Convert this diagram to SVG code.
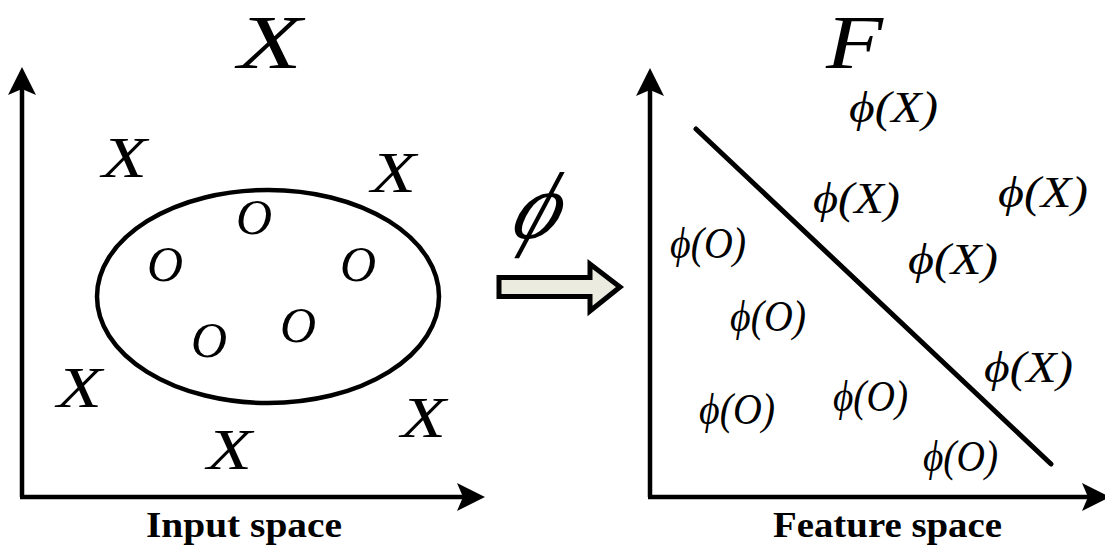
<svg xmlns="http://www.w3.org/2000/svg" width="1105" height="551" viewBox="0 0 1105 551">
<defs>
<marker id="ah" markerUnits="userSpaceOnUse" viewBox="0 0 28 28" markerWidth="28" markerHeight="28" refX="18" refY="14" orient="auto">
<path d="M0,0 L28,14 L0,28 L6,14 z" fill="#000"/>
</marker>
<style>
.ax{stroke:#000;stroke-width:4.5;fill:none}
.it{font-family:"Liberation Serif","Times New Roman",serif;font-style:italic;fill:#000}
.pt{font-size:56px}
.po{font-size:50px}
.lb{font-size:44px}
.ttl{font-size:76px}
.cap{font-family:"Liberation Serif","Times New Roman",serif;font-weight:bold;font-size:35px;fill:#000}
</style>
</defs>
<rect width="1105" height="551" fill="#fff"/>
<g id="connectors">
<path class="ax" d="M22,497 V77" marker-end="url(#ah)"/>
<path class="ax" d="M20,497 H475" marker-end="url(#ah)"/>
<path class="ax" d="M650,497 V78" marker-end="url(#ah)"/>
<path class="ax" d="M648,497 H1100" marker-end="url(#ah)"/>
<path d="M499,277.5 H590 V264 L620,287 L590,311 V296.5 H499 Z" fill="#ecebe0" stroke="#000" stroke-width="5"/>
</g>
<g id="input-space">
<text class="it ttl" x="238" y="68" textLength="64" lengthAdjust="spacingAndGlyphs">X</text>
<ellipse cx="268" cy="296.5" rx="171" ry="106.5" fill="none" stroke="#000" stroke-width="4.5"/>
<text class="it pt" x="102" y="177" textLength="45" lengthAdjust="spacingAndGlyphs">X</text>
<text class="it pt" x="371" y="192" textLength="45" lengthAdjust="spacingAndGlyphs">X</text>
<text class="it pt" x="57" y="407" textLength="45" lengthAdjust="spacingAndGlyphs">X</text>
<text class="it pt" x="207" y="469" textLength="45" lengthAdjust="spacingAndGlyphs">X</text>
<text class="it pt" x="401" y="437" textLength="45" lengthAdjust="spacingAndGlyphs">X</text>
<text class="it po" x="236" y="234">O</text>
<text class="it po" x="147" y="281">O</text>
<text class="it po" x="340" y="281">O</text>
<text class="it po" x="191" y="357">O</text>
<text class="it po" x="280" y="342">O</text>
<text class="cap" x="146" y="537" textLength="196" lengthAdjust="spacingAndGlyphs">Input space</text>
</g>
<g id="mapping">
<text class="it" transform="translate(531,238) skewX(-20)" x="0" y="0" font-size="95" text-anchor="middle" textLength="46" lengthAdjust="spacingAndGlyphs">ϕ</text>
</g>
<g id="feature-space">
<text class="it ttl" x="826" y="68" textLength="57" lengthAdjust="spacingAndGlyphs">F</text>
<line x1="696" y1="129" x2="1051" y2="464" stroke="#000" stroke-width="5" stroke-linecap="round"/>
<text class="it lb" x="849" y="122" textLength="89" lengthAdjust="spacingAndGlyphs">ϕ(X)</text>
<text class="it lb" x="813" y="213" textLength="87" lengthAdjust="spacingAndGlyphs">ϕ(X)</text>
<text class="it lb" x="998" y="207" textLength="90" lengthAdjust="spacingAndGlyphs">ϕ(X)</text>
<text class="it lb" x="908" y="274" textLength="90" lengthAdjust="spacingAndGlyphs">ϕ(X)</text>
<text class="it lb" x="984" y="382" textLength="89" lengthAdjust="spacingAndGlyphs">ϕ(X)</text>
<text class="it lb" x="670" y="258" textLength="76" lengthAdjust="spacingAndGlyphs">ϕ(O)</text>
<text class="it lb" x="730" y="331" textLength="76" lengthAdjust="spacingAndGlyphs">ϕ(O)</text>
<text class="it lb" x="699" y="424" textLength="76" lengthAdjust="spacingAndGlyphs">ϕ(O)</text>
<text class="it lb" x="833" y="411" textLength="75" lengthAdjust="spacingAndGlyphs">ϕ(O)</text>
<text class="it lb" x="923" y="471" textLength="75" lengthAdjust="spacingAndGlyphs">ϕ(O)</text>
<text class="cap" x="773" y="537" textLength="229" lengthAdjust="spacingAndGlyphs">Feature space</text>
</g>
</svg>
